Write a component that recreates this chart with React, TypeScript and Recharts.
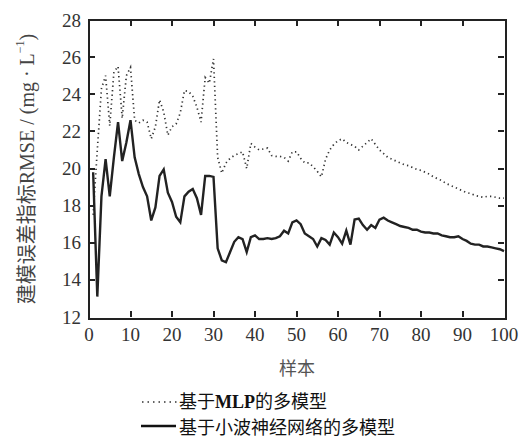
import { LineChart, Line, XAxis, YAxis } from 'recharts';

const samples: number[] = Array.from({ length: 100 }, (_, i) => i + 1);

const mlpRmse: number[] = [
  17.5, 21.0, 24.3, 25.0, 22.3, 25.2, 25.5, 22.7, 25.0, 25.45,
  22.6, 22.45, 22.6, 22.5, 21.6, 22.25, 23.7, 23.05, 21.8, 22.25,
  22.4, 23.0, 24.2, 24.15, 23.9, 23.3, 22.5, 24.9, 24.6, 25.9,
  20.6, 19.75, 20.3, 20.55, 20.7, 20.8, 20.9, 20.0, 21.35, 21.15,
  21.0, 21.05, 21.1, 20.7, 20.65, 20.65, 20.6, 20.4, 20.9, 20.9,
  20.55, 20.3, 20.3, 20.1, 19.85, 19.55, 20.5, 21.0, 21.3, 21.5,
  21.6, 21.4, 21.3, 21.2, 21.0, 21.2, 21.4, 21.6, 21.3, 21.0,
  20.8, 20.6, 20.5, 20.4, 20.3, 20.2, 20.15, 20.05, 19.95, 19.9,
  19.8, 19.7, 19.55, 19.45, 19.35, 19.2, 19.1, 19.0, 18.9, 18.8,
  18.7, 18.65, 18.55, 18.5, 18.45, 18.5, 18.5, 18.45, 18.4, 18.4,
];

const waveletRmse: number[] = [
  19.8, 13.1, 18.5, 20.5, 18.5, 20.6, 22.5, 20.4, 21.4, 22.6,
  20.6, 19.7, 19.0, 18.5, 17.2, 17.9, 19.6, 19.95, 18.7, 18.2,
  17.4, 17.1, 18.5, 18.75, 18.9, 18.4, 17.5, 19.6, 19.6, 19.55,
  15.7, 15.05, 14.95, 15.5, 16.05, 16.3, 16.2, 15.5, 16.3, 16.4,
  16.2, 16.2, 16.25, 16.2, 16.25, 16.35, 16.65, 16.5, 17.1, 17.2,
  17.0, 16.5, 16.35, 16.2, 15.8, 16.25, 16.15, 15.9, 16.55, 16.3,
  15.95, 16.65, 15.9, 17.25, 17.3, 16.95, 16.7, 16.95, 16.8, 17.25,
  17.35, 17.2, 17.1, 17.0, 16.9, 16.85, 16.8, 16.7, 16.7, 16.6,
  16.55, 16.55, 16.5, 16.5, 16.4, 16.35, 16.3, 16.3, 16.35, 16.2,
  16.1, 15.95, 15.9, 15.9, 15.8, 15.8, 15.75, 15.7, 15.65, 15.55,
];

const xTicks = [0, 10, 20, 30, 40, 50, 60, 70, 80, 90, 100];
const yTicks = [12, 14, 16, 18, 20, 22, 24, 26, 28];

const data = samples.map((x, i) => ({ x, mlp: mlpRmse[i], wnn: waveletRmse[i] }));

const FONT = "'Liberation Serif', 'Noto Sans CJK SC', serif";
const AXIS = '#222';

// plot box, follows from the chart margins + axis sizes below
const PLOT = { left: 89, top: 20, right: 504, bottom: 317 };
const TICK = 6;

function XTick(props: any) {
  const { x, y, payload } = props;
  return (
    <text x={x} y={y + 2} textAnchor="middle" dominantBaseline="hanging" fill="#333" fontSize={19} fontFamily="Liberation Serif">
      {payload.value}
    </text>
  );
}

function YTick(props: any) {
  const { x, y, payload } = props;
  return (
    <text x={x} y={y} textAnchor="end" dominantBaseline="central" fill="#333" fontSize={19} fontFamily="Liberation Serif">
      {payload.value}
    </text>
  );
}

function YTitle() {
  return (
    <text
      x={27}
      y={169}
      transform="rotate(-90 27 169)"
      textAnchor="middle"
      dominantBaseline="central"
      fill="#444"
      fontSize={20}
      fontFamily={FONT}
    >
      建模误差指标RMSE / (mg · L
      <tspan dy={-7} fontSize={12}>−1</tspan>
      <tspan dy={7}>)</tspan>
    </text>
  );
}

function XTitle() {
  return (
    <text x={297} y={369} textAnchor="middle" dominantBaseline="central" fill="#555" fontSize={18} fontFamily={FONT}>
      样本
    </text>
  );
}

// box frame (html border) with inward ticks on all four sides
function Frame() {
  const w = PLOT.right - PLOT.left;
  const h = PLOT.bottom - PLOT.top;
  const xs = xTicks.slice(1, -1).map((t) => Math.round(PLOT.left + (t / 100) * w));
  const ys = yTicks.slice(1, -1).map((v) => Math.round(PLOT.bottom - ((v - 12) / 16) * h));
  const mark = (left: number, top: number, width: number, height: number, key: string) => (
    <div key={key} style={{ position: 'absolute', left, top, width, height, background: AXIS }} />
  );
  return (
    <div style={{ position: 'absolute', left: 0, top: 0, width: 523, height: 438, pointerEvents: 'none', zIndex: 2 }}>
      <div
        style={{
          position: 'absolute',
          left: PLOT.left - 1,
          top: PLOT.top - 1,
          width: w,
          height: h,
          border: `2px solid ${AXIS}`,
          boxSizing: 'content-box',
        }}
      />
      {xs.map((x) => mark(x - 1, PLOT.bottom - TICK, 1.5, TICK, `b${x}`))}
      {xs.map((x) => mark(x - 1, PLOT.top, 1.5, TICK, `t${x}`))}
      {ys.map((y) => mark(PLOT.left, y - 1, TICK, 1.5, `l${y}`))}
      {ys.map((y) => mark(PLOT.right - TICK, y - 1, TICK, 1.5, `r${y}`))}
    </div>
  );
}

function LegendBox() {
  const row = { display: 'flex', alignItems: 'center', height: 26, fontFamily: FONT, fontSize: 18, color: '#111' } as const;
  return (
    <div style={{ position: 'absolute', left: 141, top: 387 }}>
      <div style={row}>
        <svg width={38} height={10}>
          <line x1={1} y1={7} x2={36} y2={7} stroke="#333" strokeWidth={1.6} strokeDasharray="1.5 4" />
        </svg>
        <span>基于<b>MLP</b>的多模型</span>
      </div>
      <div style={row}>
        <svg width={38} height={10}>
          <line x1={0} y1={5} x2={35} y2={5} stroke="#111" strokeWidth={2.6} />
        </svg>
        <span>基于小波神经网络的多模型</span>
      </div>
    </div>
  );
}

export default function App() {
  return (
    <div style={{ position: 'absolute', left: 0, top: 0, width: 523, height: 438, background: '#fff', fontFamily: FONT }}>
      <LineChart width={523} height={438} data={data} margin={{ top: 20, right: 19, bottom: 81, left: 29 }}>
        <XAxis
          dataKey="x"
          type="number"
          domain={[0, 100]}
          ticks={xTicks}
          interval={0}
          height={40}
          tickLine={false}
          axisLine={false}
          tick={<XTick />}
          label={<XTitle />}
        />
        <YAxis
          type="number"
          domain={[12, 28]}
          ticks={yTicks}
          interval={0}
          width={60}
          tickLine={false}
          axisLine={false}
          tick={<YTick />}
          label={<YTitle />}
        />
        <Line
          type="linear"
          dataKey="mlp"
          stroke="#333"
          strokeWidth={1.7}
          strokeDasharray="1.3 3.2"
          dot={false}
          isAnimationActive={false}
        />
        <Line
          type="linear"
          dataKey="wnn"
          stroke="#222"
          strokeWidth={2.4}
          dot={false}
          isAnimationActive={false}
        />
      </LineChart>
      <Frame />
      <LegendBox />
    </div>
  );
}
